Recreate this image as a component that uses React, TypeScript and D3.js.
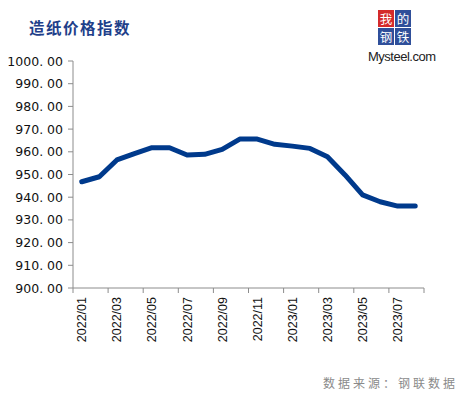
import React, { useEffect, useRef } from 'react';
import * as d3 from 'd3';

const months = [
  '2022/01', '2022/02', '2022/03', '2022/04', '2022/05', '2022/06', '2022/07', '2022/08', '2022/09', '2022/10',
  '2022/11', '2022/12', '2023/01', '2023/02', '2023/03', '2023/04', '2023/05', '2023/06', '2023/07', '2023/08',
];
const paperIndex = [
  946.8, 949.0, 956.4, 959.2, 961.8, 961.8, 958.6, 958.9, 961.1, 965.6,
  965.6, 963.3, 962.5, 961.5, 957.8, 949.8, 941.0, 938.0, 936.1, 936.1,
];
const yTicks = [900, 910, 920, 930, 940, 950, 960, 970, 980, 990, 1000];
const logoChars = ['我', '的', '钢', '铁'];

const W = 463;
const H = 397;

const App: React.FC = () => {
  const svgRef = useRef<SVGSVGElement>(null);

  useEffect(() => {
    if (!svgRef.current) return;
    const svg = d3.select(svgRef.current);
    svg.selectAll('*').remove();

    const left = 73, right = 424, top = 61, bottom = 288;

    const x = d3.scaleBand<string>().domain(months).range([left, right]);
    const y = d3.scaleLinear().domain([900, 1000]).range([bottom, top]);

    // title
    svg.append('text')
      .attr('x', 29).attr('y', 34)
      .attr('font-family', '"Noto Sans CJK SC", serif')
      .attr('font-weight', 'bold')
      .attr('font-size', 15.5)
      .attr('letter-spacing', 1.5)
      .attr('fill', '#1f3f8a')
      .text('造纸价格指数');

    // logo
    const logo = svg.append('g').attr('transform', 'translate(378,10)');
    logoChars.forEach((c, i) => {
      const cx = (i % 2) * 17;
      const cy = Math.floor(i / 2) * 18;
      logo.append('rect')
        .attr('x', cx).attr('y', cy).attr('width', 16).attr('height', 17)
        .attr('fill', i === 0 ? '#d42a2a' : '#2f4f9a');
      logo.append('text')
        .attr('x', cx + 8).attr('y', cy + 13.5)
        .attr('text-anchor', 'middle')
        .attr('font-family', '"Noto Sans CJK SC", serif')
        .attr('font-size', 12.5)
        .attr('fill', '#fff')
        .text(c);
    });
    svg.append('text')
      .attr('x', 368).attr('y', 61)
      .attr('font-family', '"Liberation Sans", Arial, sans-serif')
      .attr('font-size', 13)
      .attr('letter-spacing', -0.5)
      .attr('fill', '#222')
      .text('Mysteel.com');

    // y axis
    const axisColor = '#8c8c8c';
    svg.append('line')
      .attr('x1', left).attr('x2', left).attr('y1', top).attr('y2', bottom)
      .attr('stroke', axisColor);
    const yg = svg.append('g');
    yTicks.forEach(t => {
      yg.append('line')
        .attr('x1', left - 5).attr('x2', left).attr('y1', y(t)).attr('y2', y(t))
        .attr('stroke', axisColor);
      yg.append('text')
        .attr('x', 63).attr('y', y(t) + 4.5)
        .attr('text-anchor', 'end')
        .attr('font-family', '"DejaVu Sans", sans-serif')
        .attr('font-size', 12.5)
        .attr('fill', '#111')
        .text(d3.format('.2f')(t).replace('.', '. '));
    });

    // x axis
    svg.append('line')
      .attr('x1', left).attr('x2', right).attr('y1', bottom).attr('y2', bottom)
      .attr('stroke', axisColor);
    const step = x.step();
    for (let i = 0; i <= months.length; i += 2) {
      const tx = left + i * step;
      svg.append('line')
        .attr('x1', tx).attr('x2', tx).attr('y1', bottom).attr('y2', bottom + 5)
        .attr('stroke', axisColor);
    }
    months.forEach((m, i) => {
      if (i % 2 !== 0) return;
      const cx = (x(m) ?? 0) + x.bandwidth() / 2;
      svg.append('text')
        .attr('transform', `translate(${cx + 4.5},${bottom + 9}) rotate(-90)`)
        .attr('text-anchor', 'end')
        .attr('font-family', '"Liberation Sans", Arial, sans-serif')
        .attr('font-size', 12.5)
        .attr('fill', '#111')
        .text(m);
    });

    // line
    const line = d3.line<number>()
      .x((_, i) => (x(months[i]) ?? 0) + x.bandwidth() / 2)
      .y(d => y(d));
    svg.append('path')
      .attr('d', line(paperIndex))
      .attr('fill', 'none')
      .attr('stroke', '#003a8c')
      .attr('stroke-width', 5)
      .attr('stroke-linejoin', 'round')
      .attr('stroke-linecap', 'round');

    // source
    svg.append('text')
      .attr('x', 458).attr('y', 388)
      .attr('text-anchor', 'end')
      .attr('font-family', '"Noto Sans CJK SC", serif')
      .attr('font-size', 12)
      .attr('letter-spacing', 3)
      .attr('fill', '#8a8a8a')
      .text('数据来源：钢联数据');
  }, []);

  return (
    <svg
      ref={svgRef}
      width={W}
      height={H}
      viewBox={`0 0 ${W} ${H}`}
      style={{ position: 'fixed', left: 0, top: 0, background: '#fff' }}
    />
  );
};

export default App;
